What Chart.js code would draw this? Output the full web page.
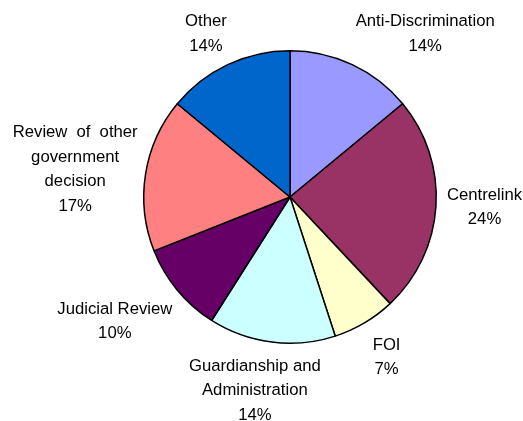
<!DOCTYPE html>
<html>
<head>
<meta charset="utf-8">
<script src="https://cdn.jsdelivr.net/npm/chart.js@4/dist/chart.umd.min.js"></script>
<style>
  html, body { margin: 0; padding: 0; background: #ffffff; }
  #wrap { width: 523px; height: 421px; position: relative; }
</style>
</head>
<body>
<div id="wrap"><canvas id="c" width="523" height="421"></canvas></div>
<script>
// ---- data ----
const categories = [
  ['Anti-Discrimination'],
  ['Centrelink'],
  ['FOI'],
  ['Guardianship and', 'Administration'],
  ['Judicial Review'],
  ['Review of other', 'government', 'decision'],
  ['Other']
];
const values = [14, 24, 7, 14, 10, 17, 14];
const colors = ['#9999FF', '#993366', '#FFFFCC', '#CCFFFF', '#660066', '#FF8080', '#0066CC'];

// ---- label placement style (alignment of label box relative to the point just outside each slice) ----
const labelAlign = [[0, 1.18], [-0.04, 0.52], [-0.15, -0.22], [0.62, -0.14], [0.99, -0.18], [1.0, 0.555], [0.94, 1.18]];
const labelWordSpacing = [0, 0, 0, 0, 0, 4.5, 0];
const FONT = '16.7px "Liberation Sans", Arial, sans-serif';
const LINE_H = 24.5;
const CAP_H = 12;

const outsideLabels = {
  id: 'outsideLabels',
  afterDatasetsDraw(chart) {
    const ctx = chart.ctx;
    const meta = chart.getDatasetMeta(0);
    const data = chart.data.datasets[0].data;
    const total = data.reduce((a, b) => a + b, 0);
    ctx.save();
    ctx.font = FONT;
    ctx.fillStyle = '#000000';
    ctx.textAlign = 'center';
    ctx.textBaseline = 'alphabetic';
    meta.data.forEach((arc, i) => {
      try { ctx.wordSpacing = labelWordSpacing[i] + 'px'; } catch (e) {}
      const p = arc.getProps(['x', 'y', 'startAngle', 'endAngle', 'outerRadius'], true);
      const mid = (p.startAngle + p.endAngle) / 2;
      const r = p.outerRadius + 8;
      const ax = p.x + Math.cos(mid) * r;
      const ay = p.y + Math.sin(mid) * r;
      const lines = chart.data.labels[i].concat([Math.round(data[i] / total * 100) + '%']);
      let w = 0;
      lines.forEach(l => { w = Math.max(w, ctx.measureText(l).width); });
      const h = (lines.length - 1) * LINE_H + CAP_H;
      const [xf, yf] = labelAlign[i];
      const left = ax - xf * w;
      const top = ay - yf * h;
      lines.forEach((l, j) => {
        ctx.fillText(l, left + w / 2, top + CAP_H + j * LINE_H);
      });
    });
    ctx.restore();
  }
};

new Chart(document.getElementById('c'), {
  type: 'pie',
  data: {
    labels: categories,
    datasets: [{
      data: values,
      backgroundColor: colors,
      borderColor: '#000000',
      borderWidth: 1.5
    }]
  },
  options: {
    responsive: false,
    animation: false,
    events: [],
    layout: { padding: { top: 50, bottom: 77, left: 57, right: 0 } },
    plugins: {
      legend: { display: false },
      tooltip: { enabled: false }
    }
  },
  plugins: [outsideLabels]
});
</script>
</body>
</html>
